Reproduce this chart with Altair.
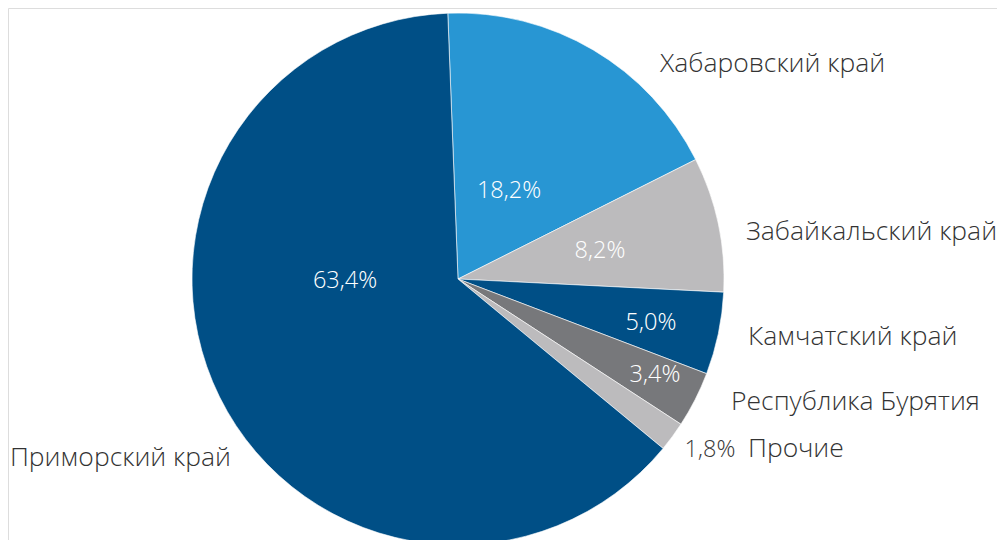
import math
import altair as alt
import pandas as pd

# ---- data ----
regions = ["Хабаровский край", "Забайкальский край", "Камчатский край",
           "Республика Бурятия", "Прочие", "Приморский край"]
shares = [18.2, 8.2, 5.0, 3.4, 1.8, 63.4]
pct_text = ["18,2%", "8,2%", "5,0%", "3,4%", "1,8%", "63,4%"]
colors = ["#2896d3", "#bcbbbd", "#004f86", "#77787b", "#bcbbbd", "#004f86"]

# ---- layout (label anchors in chart pixels; page offset 8px) ----
CX, CY, R = 450, 271, 266
START = math.radians(-2.2)
name_x = [652, 738, 740, 723, 740, 223]
name_y = [64, 232, 337, 402, 449, 458]
name_align = ["left", "left", "left", "left", "left", "right"]
pct_x = [501, 592, 643, 647, 702, 337]
pct_y = [190, 250, 322, 374, 449, 280]
pct_color = ["white", "white", "white", "white", "#3a3a3a", "white"]

df = pd.DataFrame({"region": regions, "share": shares, "order": list(range(len(regions)))})

FONT = "Open Sans Light, Open Sans"

pie = alt.Chart(df).mark_arc(stroke="white", strokeWidth=0.6).encode(
    theta=alt.Theta("share:Q", stack=True,
                    scale=alt.Scale(range=[START, START + 2 * math.pi])),
    order=alt.Order("order:Q"),
    color=alt.Color("region:N", scale=alt.Scale(domain=regions, range=colors), legend=None),
    x=alt.value(CX), y=alt.value(CY), radius=alt.value(R),
)

layers = [pie]
for i, name in enumerate(regions):
    d = pd.DataFrame({"t": [name], "lx": [name_x[i]], "ly": [name_y[i]]})
    layers.append(alt.Chart(d).mark_text(
        font=FONT, fontWeight=300, fontSize=26.5, color="#333333",
        align=name_align[i], baseline="alphabetic").encode(
        x=alt.X("lx:Q", scale=None), y=alt.Y("ly:Q", scale=None), text="t:N"))
    d2 = pd.DataFrame({"t": [pct_text[i]], "lx": [pct_x[i]], "ly": [pct_y[i]]})
    layers.append(alt.Chart(d2).mark_text(
        font=FONT, fontWeight=300, fontSize=23.5, color=pct_color[i],
        align="center", baseline="alphabetic").encode(
        x=alt.X("lx:Q", scale=None), y=alt.Y("ly:Q", scale=None), text="t:N"))

chart = alt.layer(*layers).properties(
    width=989, height=532, padding=0, autosize=alt.AutoSizeParams(type="none")
).configure_view(stroke="transparent", strokeWidth=0).configure(background="white")

chart.save("out.html", embed_options={"renderer": "svg", "actions": False})
